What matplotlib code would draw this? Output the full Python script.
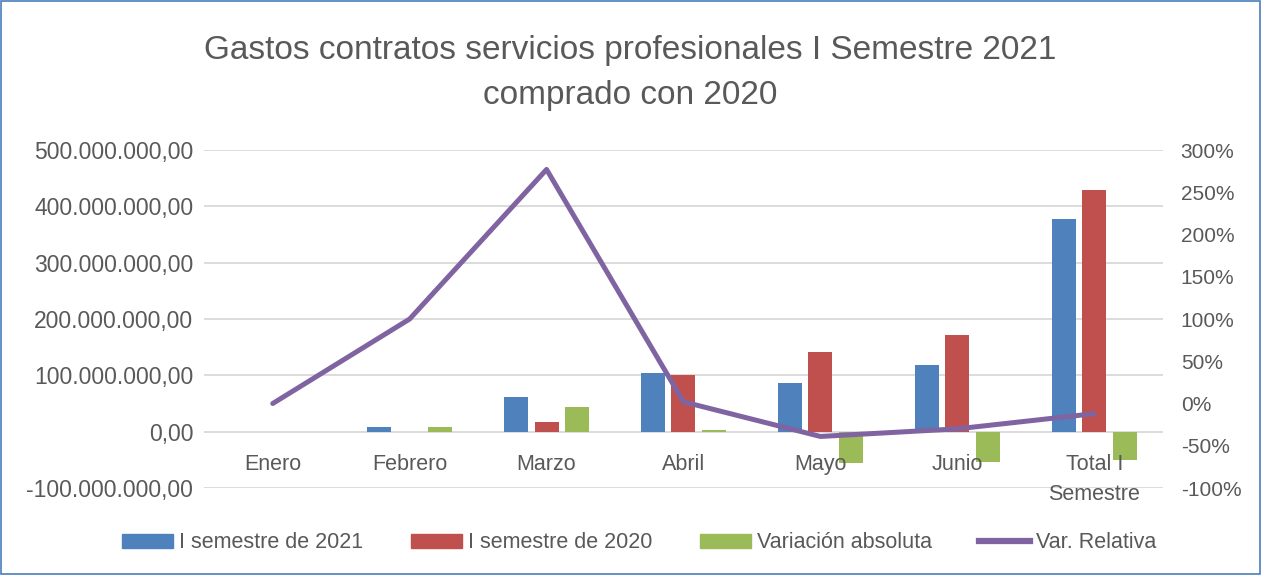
import matplotlib.pyplot as plt
from matplotlib.patches import Patch, Rectangle
from matplotlib.lines import Line2D
from matplotlib.ticker import FuncFormatter
import numpy as np

plt.rcParams['font.family'] = ['Liberation Sans', 'DejaVu Sans']

# datos
meses = ["Enero", "Febrero", "Marzo", "Abril", "Mayo", "Junio", "Total I\nSemestre"]
sem_2021 = [0, 8e6, 61e6, 104e6, 86e6, 119e6, 378e6]
sem_2020 = [0, 0, 16.5e6, 100.5e6, 141e6, 172e6, 429e6]
var_abs = [0, 8e6, 44.5e6, 3.5e6, -55e6, -53e6, -51e6]
var_rel = [0, 100, 277, 2, -39, -30, -12]

azul = "#4f81bd"
rojo = "#c0504d"
verde = "#9bbb59"
morado = "#8064a2"
gris = "#595959"

fig = plt.figure(figsize=(12.61, 5.75), dpi=100)
ax = fig.add_axes([0.162, 0.1513, 0.76, 0.5878])

x = np.arange(len(meses))
w = 0.175
paso = 0.222
ax.bar(x - paso, sem_2021, w, color=azul, zorder=3)
ax.bar(x, sem_2020, w, color=rojo, zorder=3)
ax.bar(x + paso, var_abs, w, color=verde, zorder=3)

ax.set_xlim(-0.5, len(meses) - 0.5)
ax.set_ylim(-100e6, 500e6)
ax.set_yticks(np.arange(-100e6, 500e6 + 1, 100e6))
ax.yaxis.set_major_formatter(FuncFormatter(
    lambda v, p: f"{v:,.2f}".replace(",", "X").replace(".", ",").replace("X", ".")))
ax.grid(axis="y", color="#d9d9d9", linewidth=1.3, zorder=0)
for s in ax.spines.values():
    s.set_visible(False)
ax.tick_params(axis="both", length=0, labelsize=16.5, colors=gris, pad=8)
ax.set_xticks(x)
ax.set_xticklabels([])
for xi, m in zip(x, meses):
    ax.text(xi, -40e6, m, ha="center", va="top", fontsize=15.5, color=gris,
            linespacing=1.55, zorder=5)

ax2 = ax.twinx()
ax2.plot(x, var_rel, color=morado, linewidth=3.6, solid_capstyle="round", zorder=4)
ax2.set_ylim(-100, 300)
ax2.set_yticks(np.arange(-100, 301, 50))
ax2.yaxis.set_major_formatter(FuncFormatter(lambda v, p: f"{v:.0f}%"))
for s in ax2.spines.values():
    s.set_visible(False)
ax2.tick_params(axis="y", length=0, labelsize=15, colors=gris, pad=13)

fig.suptitle("Gastos contratos servicios profesionales I Semestre 2021\ncomprado con 2020",
             y=0.94, fontsize=24, color=gris, linespacing=1.6)

handles = [Patch(color=azul), Patch(color=rojo), Patch(color=verde),
           Line2D([0], [0], color=morado, linewidth=4.5)]
labels = ["I semestre de 2021", "I semestre de 2020", "Variación absoluta", "Var. Relativa"]
fig.legend(handles, labels, loc="center", bbox_to_anchor=(0.507, 0.056), ncol=4,
           frameon=False, fontsize=15.5, labelcolor=gris, handlelength=2.37,
           handleheight=0.6, handletextpad=0.28, columnspacing=2.2)

fig.patches.append(Rectangle((0.001, 0.001), 0.998, 0.997, transform=fig.transFigure,
                             fill=False, edgecolor="#4a7ebb", linewidth=1.2))

fig.savefig("out.png", dpi=100)
